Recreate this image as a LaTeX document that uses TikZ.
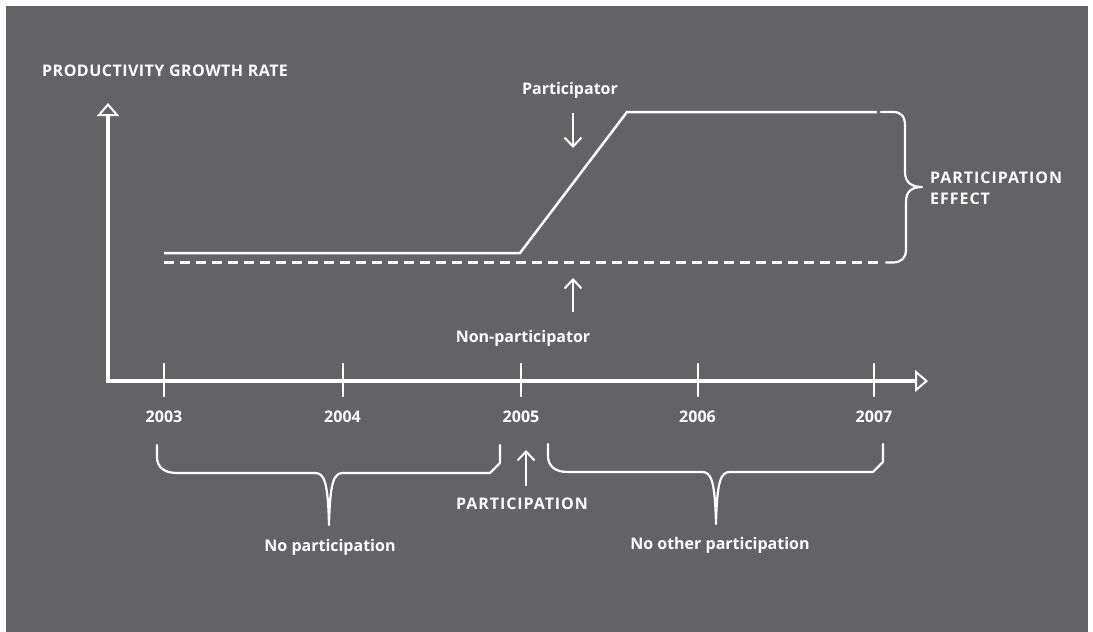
\documentclass[tikz,border=0pt]{standalone}
\usepackage{fontspec}
\setmainfont{Open Sans}
\newfontfamily\capsfont[LetterSpace=6]{Open Sans}
\newfontfamily\axisfont[LetterSpace=3]{Open Sans}
\usetikzlibrary{arrows.meta}
\definecolor{panelGray}{RGB}{99,99,101}

% downward curly brace: left x, right x, tip x, top y
\newcommand{\DownBrace}[4]{
	\def\bl{#1}
	\def\br{#2}
	\def\bt{#3}
	\def\by{#4}
	\draw[bracepath] (\bl,\by) -- (\bl,\by+12) .. controls (\bl,\by+22) and (\bl+7,\by+28) .. (\bl+20,\by+28)
		-- (\bt-14,\by+28) .. controls (\bt-5,\by+28) and (\bt-1,\by+36) .. (\bt,\by+80)
		.. controls (\bt+1,\by+36) and (\bt+5,\by+28) .. (\bt+14,\by+28)
		-- (\br-10,\by+28) -- (\br,\by+18) -- (\br,\by);
}

\tikzset{
	axisline/.style={white, line width=4.5pt, -{Triangle[open, length=13pt, width=22pt, line width=2pt]}},
	yeartick/.style={white, line width=2pt},
	curve/.style={white, line width=2.5pt},
	bracepath/.style={white, line width=2.2pt, line cap=round, line join=round},
	pointer/.style={white, line width=2pt, -{Straight Barb[length=9pt, width=17pt, line width=2pt]}},
	label/.style={text=white, inner sep=0pt, font=\fontsize{16}{21}\selectfont\bfseries},
	caplabel/.style={label, font=\fontsize{16}{21}\selectfont\capsfont\bfseries},
}

\begin{document}
\begin{tikzpicture}[x=1pt, y=-1pt, line cap=butt]

  \useasboundingbox (0,0) rectangle (1093,632);
  \fill[panelGray] (6,6) rectangle (1088,632);

  % axes
  \coordinate (O) at (108,381);
  \coordinate (Ytop) at (108,103);
  \coordinate (Xend) at (928,381);
  \draw[axisline] (O) -- (Ytop);
  \draw[axisline] ([xshift=-2.25pt]O) -- (Xend);
  \node[label, font=\fontsize{16}{21}\selectfont\axisfont\bfseries, anchor=west] (ylabel) at (42,71) {PRODUCTIVITY GROWTH RATE};

  % years
  \foreach \x/\yr in {164/2003, 342.5/2004, 521/2005, 697.5/2006, 874/2007}{
    \draw[yeartick] (\x,363) -- (\x,397);
    \node[label] (y\yr) at (\x,417) {\yr};
  }

  % growth paths
  \draw[curve, line join=miter] (164,253) -- (520,253) -- (627,112) -- (877,112);
  \draw[curve, dash pattern=on 10pt off 6pt] (164,262.5) -- (884,262.5);

  % participation effect brace
  \draw[bracepath] (881,112) -- (893,112) .. controls (901,112) and (905,116) .. (905,126)
    -- (905,172) .. controls (905,182) and (911,187) .. (922,187)
    .. controls (911,187) and (906,192) .. (906,202)
    -- (906,250) .. controls (906,258) and (901,262.5) .. (893,262.5) -- (886,262.5);
  \node[caplabel, anchor=west, align=left] (effect) at (930,188) {PARTICIPATION\\EFFECT};

  % labels with pointers
  \node[label] (participator) at (570,90) {Participator};
  \coordinate (pa) at (573,113);
  \coordinate (pb) at (573,148);
  \draw[pointer] (pa) -- (pb);

  \node[label] (nonpart) at (523,338) {Non-participator};
  \coordinate (na) at (573,312);
  \coordinate (nb) at (573,278);
  \draw[pointer] (na) -- (nb);

  \node[caplabel] (participation) at (522,504) {PARTICIPATION};
  \coordinate (ca) at (526,486);
  \coordinate (cb) at (526,450);
  \draw[pointer] (ca) -- (cb);

  % period braces
  \DownBrace{157}{500}{329}{445}
  \DownBrace{548}{883}{716}{444}
  \node[label] (nopart) at (330,547) {No participation};
  \node[label] (noother) at (720,545) {No other participation};

\end{tikzpicture}
\end{document}
